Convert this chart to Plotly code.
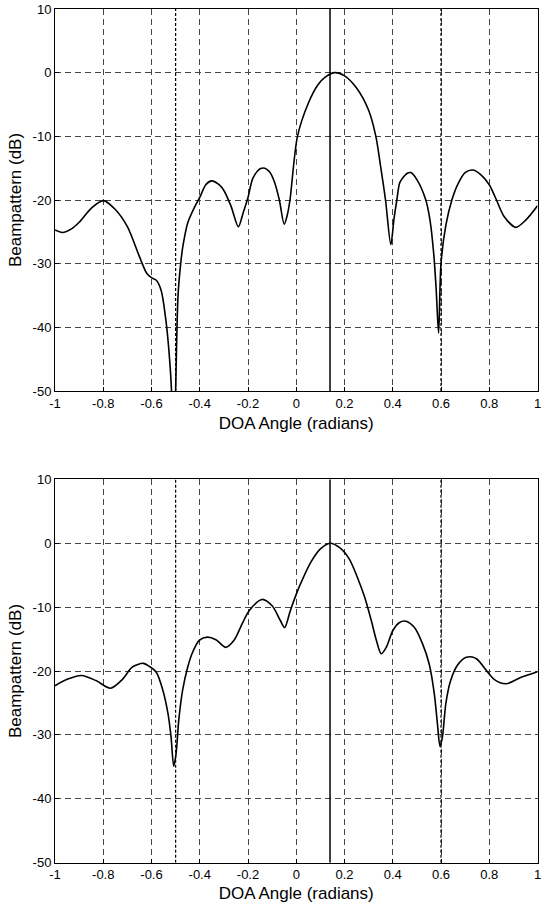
import plotly.graph_objects as go

# ---- data ----
top_x = [-1.0, -0.97, -0.93, -0.9, -0.85, -0.8, -0.75, -0.7, -0.65, -0.62, -0.6, -0.58, -0.56, -0.54,
         -0.525, -0.517, -0.508, -0.5, -0.49, -0.479, -0.47, -0.45, -0.42, -0.4, -0.375, -0.35, -0.32,
         -0.3, -0.27, -0.24, -0.22, -0.2, -0.18, -0.15, -0.13, -0.11, -0.09, -0.07, -0.05, -0.038,
         -0.026, 0.005, 0.05, 0.09, 0.12, 0.16, 0.2, 0.25, 0.3, 0.33, 0.35, 0.37, 0.392, 0.405,
         0.417, 0.43, 0.46, 0.475, 0.5, 0.537, 0.555, 0.57, 0.58, 0.59, 0.6, 0.62, 0.645, 0.67, 0.7,
         0.733, 0.77, 0.8, 0.83, 0.86, 0.91, 0.95, 1.0]
top_db = [-24.7, -25.1, -24.5, -23.5, -21.3, -20.1, -21.5, -24.2, -28.9, -31.5, -32.2, -32.6, -34.2, -39.0,
          -45.0, -50.0, -65.0, -50.0, -35.0, -30.0, -27.3, -23.6, -21.0, -19.6, -17.6, -17.0, -17.6,
          -18.5, -21.0, -24.2, -22.0, -19.6, -16.6, -15.1, -15.0, -15.6, -17.2, -20.0, -23.8, -22.5,
          -20.0, -10.0, -4.8, -1.9, -0.7, 0.0, -0.5, -2.4, -5.9, -10.0, -14.8, -20.0, -27.0, -23.0,
          -20.0, -17.2, -15.8, -15.7, -16.8, -20.0, -23.3, -28.5, -34.0, -40.9, -30.0, -24.0, -20.0, -17.5, -15.7,
          -15.3, -16.2, -17.6, -20.0, -22.5, -24.3, -23.2, -20.9]

bot_x = [-1.0, -0.95, -0.89, -0.83, -0.77, -0.72, -0.68, -0.634, -0.608, -0.58, -0.553, -0.532, -0.519,
         -0.508, -0.498, -0.487, -0.471, -0.45, -0.43, -0.402, -0.368, -0.333, -0.292, -0.258, -0.224,
         -0.196, -0.142, -0.1, -0.066, -0.048, -0.025, 0.003, 0.023, 0.06, 0.1, 0.14, 0.18, 0.22, 0.256,
         0.284, 0.311, 0.332, 0.352, 0.373, 0.4, 0.428, 0.455, 0.49, 0.524, 0.551, 0.572, 0.585, 0.596,
         0.606, 0.62, 0.64, 0.668, 0.702, 0.73, 0.751, 0.82, 0.87, 0.93, 1.0]
bot_db = [-22.3, -21.3, -20.7, -21.5, -22.7, -21.3, -19.4, -18.8, -19.3, -20.2, -23.0, -26.6, -30.3,
          -34.9, -32.9, -27.7, -23.0, -19.4, -17.1, -15.2, -14.7, -15.1, -16.3, -15.2, -12.6,
          -10.6, -8.8, -9.8, -12.1, -13.2, -10.6, -7.7, -5.9, -3.0, -0.9, 0.0, -0.7, -2.5, -5.6,
          -8.5, -12.1, -15.2, -17.3, -16.3, -13.7, -12.4, -12.2, -13.2, -15.8, -18.9, -23.5, -28.2, -31.8,
          -30.3, -25.1, -21.5, -19.1, -17.9, -17.8, -18.2, -21.3, -22.0, -21.0, -20.1]

look_angle = 0.14                # solid vertical line (steering direction)
interferer_angles = [-0.5, 0.6]  # dash-dot vertical lines

x_ticks = [-1, -0.8, -0.6, -0.4, -0.2, 0, 0.2, 0.4, 0.6, 0.8, 1]
x_tick_text = ["-1", "-0.8", "-0.6", "-0.4", "-0.2", "0", "0.2", "0.4", "0.6", "0.8", "1"]
y_ticks = [-50, -40, -30, -20, -10, 0, 10]
y_tick_text = ["-50", "-40", "-30", "-20", "-10", "0", "10"]
y_range = [-50, 10]
x_range = [-1, 1]

FONT = "Liberation Sans, Arial, sans-serif"

fig = go.Figure()

panels = [(top_x, top_db, "x", "y"), (bot_x, bot_db, "x2", "y2")]
for xs, ys, xa, ya in panels:
    for ia in interferer_angles:
        fig.add_trace(go.Scatter(x=[ia, ia], y=y_range, mode="lines", xaxis=xa, yaxis=ya,
                                 line=dict(color="black", width=1.2, dash="3px,2px"),
                                 showlegend=False, hoverinfo="skip"))
    fig.add_trace(go.Scatter(x=[look_angle, look_angle], y=y_range, mode="lines", xaxis=xa, yaxis=ya,
                             line=dict(color="black", width=1.5), showlegend=False, hoverinfo="skip"))
    fig.add_trace(go.Scatter(x=xs, y=ys, mode="lines", xaxis=xa, yaxis=ya,
                             line=dict(color="black", width=1.6, shape="spline", smoothing=0.8),
                             showlegend=False))

W, H = 543, 903
x_dom = [55 / W, 537.5 / W]
top_dom = [1 - 391 / H, 1 - 9 / H]
bot_dom = [1 - 862.7 / H, 1 - 479.3 / H]

def xaxis(anchor):
    return dict(domain=x_dom, range=x_range, tickvals=x_ticks, ticktext=x_tick_text,
                showgrid=True, gridcolor="#444", griddash="6px,4px", gridwidth=1,
                zeroline=False, showline=True, linecolor="black", linewidth=1, mirror=True,
                ticks="inside", ticklen=4, tickcolor="black", anchor=anchor, automargin=False,
                ticklabeloverflow="allow",
                tickfont=dict(family=FONT, size=13, color="black"),
                title=dict(text="DOA Angle (radians)", font=dict(family=FONT, size=17, color="black"),
                           standoff=7))

def yaxis(dom, anchor):
    return dict(domain=dom, range=y_range, tickvals=y_ticks, ticktext=y_tick_text,
                showgrid=True, gridcolor="#444", griddash="6px,4px", gridwidth=1,
                zeroline=False, showline=True, linecolor="black", linewidth=1, mirror=True,
                ticks="inside", ticklen=4, tickcolor="black", anchor=anchor, automargin=False,
                ticklabeloverflow="allow",
                tickfont=dict(family=FONT, size=13, color="black"),
                title=dict(text="Beampattern (dB)", font=dict(family=FONT, size=17, color="black"),
                           standoff=6))

fig.update_layout(
    width=W, height=H,
    margin=dict(l=0, r=0, t=0, b=0),
    paper_bgcolor="white", plot_bgcolor="white",
    xaxis=xaxis("y"), yaxis=yaxis(top_dom, "x"),
    xaxis2=xaxis("y2"), yaxis2=yaxis(bot_dom, "x2"),
)

fig.write_html(
    "out.html",
    config={"displayModeBar": False},
    post_script="document.body.style.margin='0';document.documentElement.style.overflow='hidden';",
)
